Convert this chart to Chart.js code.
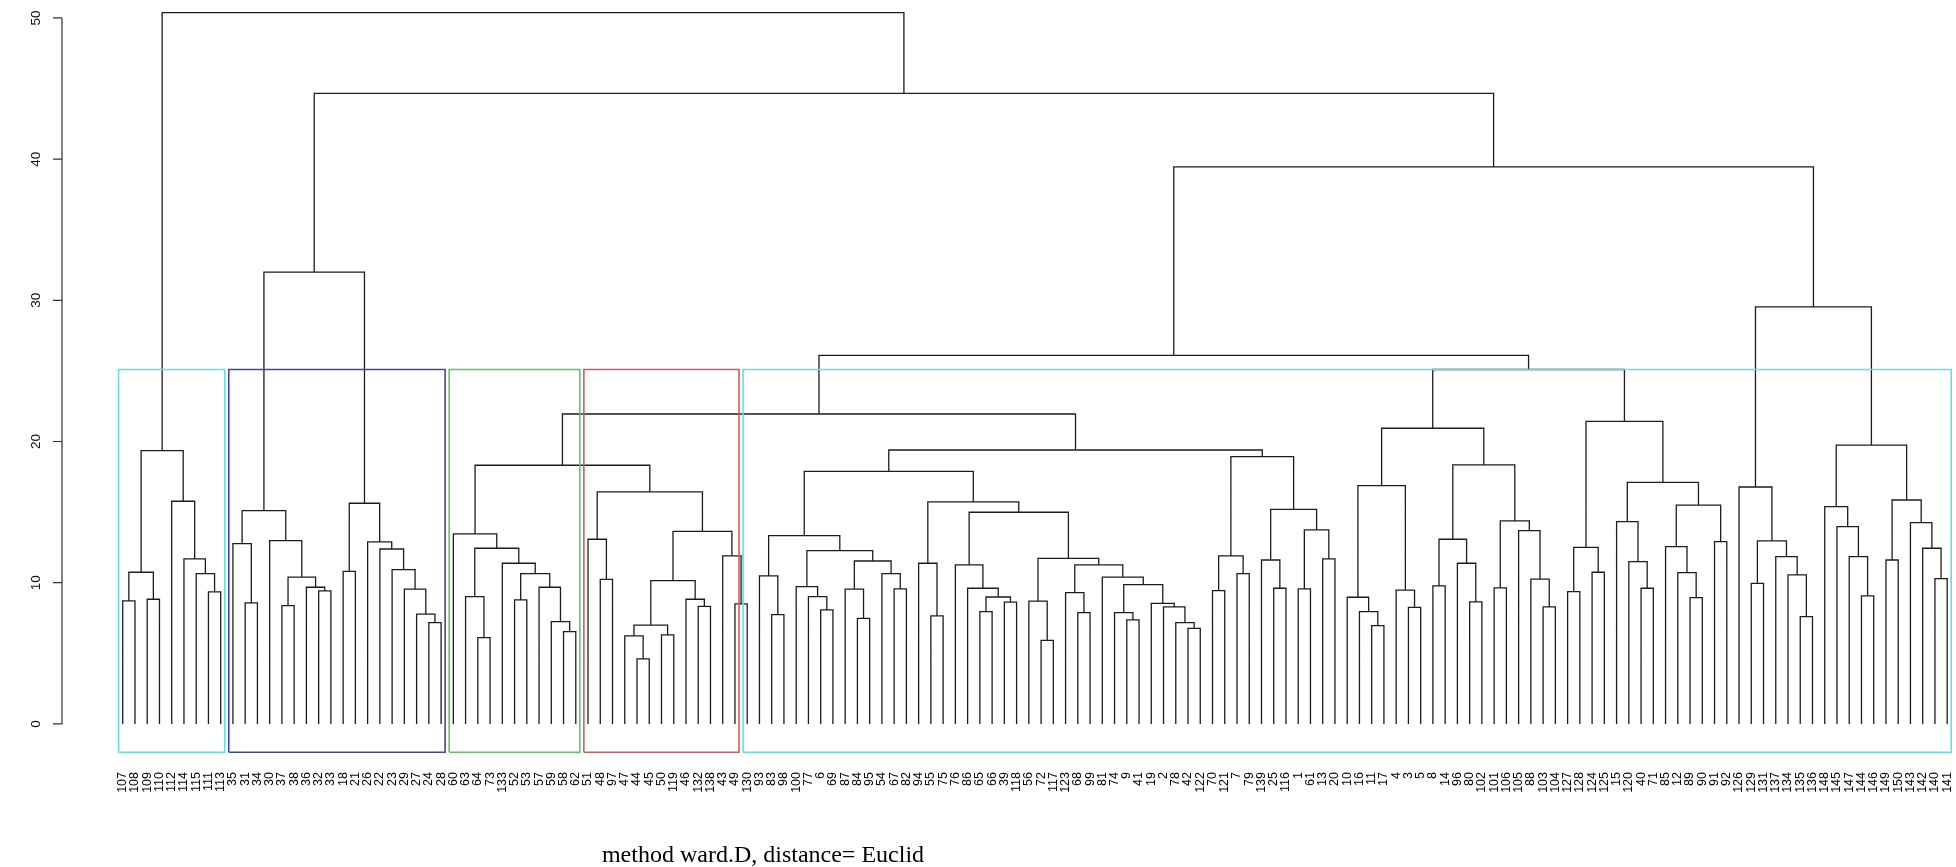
<!DOCTYPE html>
<html>
<head>
<meta charset="utf-8">
<script src="https://cdn.jsdelivr.net/npm/chart.js@4.4.1/dist/chart.umd.min.js"></script>
<style>
  html, body { margin: 0; padding: 0; background: #ffffff; overflow: hidden; }
  canvas { display: block; }
</style>
</head>
<body>
<canvas id="dendro" width="1956" height="867" style="width:1956px;height:867px"></canvas>
<script>
// Observation labels in the left-to-right order of the dendrogram leaves
const leafOrder = [107,108,109,110,112,114,115,111,113,35,31,34,30,37,38,36,32,33,18,21,26,22,23,29,27,24,28,
  60,63,64,73,133,52,53,57,59,58,62,51,48,97,47,44,45,50,119,46,132,138,43,49,130,93,83,98,100,77,6,69,87,84,
  95,54,67,82,94,55,75,76,86,65,66,39,118,56,72,117,123,68,99,81,74,9,41,19,2,78,42,122,70,121,7,79,139,25,116,
  1,61,13,20,10,16,11,17,4,3,5,8,14,96,80,102,101,106,105,88,103,104,127,128,124,125,15,120,40,71,85,12,89,90,
  91,92,126,129,131,137,134,135,136,148,145,147,144,146,149,150,143,142,140,141];

// Agglomeration steps (hclust convention): negative = observation, positive = earlier step (1-based)
const mergePairs = [
  [-107,-108],[-109,-110],[1,2],[-111,-113],[-115,4],[-114,5],[-112,6],[3,7],
  [-31,-34],[-35,9],[-37,-38],[-32,-33],[-36,12],[11,13],[-30,14],[10,15],
  [-18,-21],[-24,-28],[-27,18],[-29,19],[-23,20],[-22,21],[-26,22],[17,23],[16,24],
  [-64,-73],[-63,26],[-52,-53],[-58,-62],[-59,29],[-57,30],[28,31],[-133,32],[27,33],[-60,34],
  [-48,-97],[-51,36],[-44,-45],[-47,38],[-50,-119],[39,40],[-132,-138],[-46,42],[41,43],
  [-49,-130],[-43,45],[44,46],[37,47],[35,48],
  [-83,-98],[-93,50],[-6,-69],[-77,52],[-100,53],[-84,-95],[-87,55],[-67,-82],[-54,57],[56,58],[54,59],[51,60],
  [-55,-75],[-94,62],[-65,-66],[-39,-118],[64,65],[-86,66],[-76,67],[-72,-117],[-56,69],[-68,-99],[-123,71],
  [-9,-41],[-74,73],[-42,-122],[-78,75],[-2,76],[-19,77],[74,78],[-81,79],[72,80],[70,81],[68,82],[63,83],[61,84],
  [-70,-121],[-7,-79],[86,87],[-25,-116],[-139,89],[-1,-61],[-13,-20],[91,92],[90,93],[88,94],[85,95],[49,96],
  [-11,-17],[-16,98],[-10,99],[-3,-5],[-4,101],[100,102],[-8,-14],[-80,-102],[-96,105],[104,106],
  [-101,-106],[-103,-104],[-88,109],[-105,110],[108,111],[107,112],[103,113],
  [-127,-128],[-124,-125],[115,116],[-40,-71],[-120,118],[-15,119],[-89,-90],[-12,121],[-85,122],[-91,-92],
  [123,124],[120,125],[117,126],[114,127],[97,128],
  [-129,-131],[-135,-136],[-134,131],[-137,132],[130,133],[-126,134],
  [-144,-146],[-147,136],[-145,137],[-148,138],[-149,-150],[-140,-141],[-142,141],[-143,142],[140,143],[139,144],
  [135,145],[129,146],[25,147],[8,148]
];

// Height of each agglomeration step, same order as mergePairs
const mergeHeights = [
  8.71,8.83,10.74,9.35,10.65,11.69,15.77,19.36,
  8.57,12.77,8.38,9.42,9.68,10.39,12.98,15.11,
  10.81,7.18,7.77,9.54,10.93,12.39,12.89,15.63,32.0,
  6.11,9.02,8.78,6.54,7.25,9.68,10.65,11.38,12.44,13.46,
  10.24,13.08,4.60,6.23,6.30,6.99,8.33,8.83,10.15,
  8.50,11.90,13.64,16.43,18.32,
  7.74,10.48,8.07,9.02,9.73,7.48,9.54,9.56,10.65,11.54,12.28,13.34,
  7.65,11.38,7.95,8.62,8.99,9.61,11.26,5.92,8.69,7.88,9.30,
  7.37,7.88,6.77,7.18,8.29,8.54,9.87,10.39,11.26,11.73,14.99,15.72,17.89,
  9.44,10.65,11.90,9.61,11.61,9.56,11.69,13.74,15.20,18.93,19.40,21.95,
  6.96,7.95,8.97,8.26,9.47,16.88,9.77,8.64,11.38,13.08,
  9.63,8.29,10.25,13.69,14.38,18.34,20.94,
  9.37,10.74,12.51,9.61,11.50,14.33,8.95,10.72,12.56,12.91,
  15.49,17.11,21.43,25.10,26.10,
  9.96,7.60,10.55,11.85,12.96,16.78,
  9.07,11.85,13.98,15.39,11.61,10.29,12.44,14.26,15.86,19.74,
  29.54,39.45,44.65,50.38
];

// Clusters outlined by rectangles (leaf counts, left to right) and the cut height
const clusterSizes = [9, 18, 11, 13, 99];
const clusterColors = ['#62dfe3', '#45459f', '#66c266', '#d65a5e', '#62dfe3'];
const cutHeight = 25.1;

const yTicks = [0, 10, 20, 30, 40, 50];
const subtitle = 'method ward.D, distance= Euclid';

// ---- build segments ----
const leafPos = {};
leafOrder.forEach((lab, i) => { leafPos[lab] = i; });
const nodeX = [], nodeH = [];
function child(ref) {
  return ref < 0 ? [leafPos[-ref], 0] : [nodeX[ref - 1], nodeH[ref - 1]];
}
const treePoints = [];
mergePairs.forEach((pair, k) => {
  const [xa, ha] = child(pair[0]);
  const [xb, hb] = child(pair[1]);
  const h = mergeHeights[k];
  nodeX.push((xa + xb) / 2);
  nodeH.push(h);
  treePoints.push({x: xa, y: ha}, {x: xa, y: h}, {x: xb, y: h}, {x: xb, y: hb}, {x: xb, y: null});
});

const Y_MIN = -2.01, Y_MAX = 51.27;
const X_MIN = -4.96, X_MAX = 149.72;

const boxDatasets = [];
let start = 0;
clusterSizes.forEach((n, i) => {
  const l = start - 0.34, r = start + n - 1 + 0.33;
  boxDatasets.push({
    data: [{x: l, y: Y_MIN}, {x: l, y: cutHeight}, {x: r, y: cutHeight}, {x: r, y: Y_MIN}, {x: l, y: Y_MIN}],
    showLine: true, borderColor: clusterColors[i], borderWidth: 1.6, pointRadius: 0,
    fill: false, tension: 0, order: 0, clip: false
  });
  start += n;
});

// ---- axes, leaf labels and subtitle ----
const annotate = {
  id: 'annotate',
  afterDraw(chart) {
    const ctx = chart.ctx;
    const xs = chart.scales.x, ys = chart.scales.y;
    ctx.save();
    // leaf labels
    ctx.fillStyle = '#000';
    ctx.font = '12.5px "Liberation Sans", Arial, sans-serif';
    ctx.textAlign = 'right';
    ctx.textBaseline = 'middle';
    leafOrder.forEach((lab, i) => {
      ctx.save();
      ctx.translate(xs.getPixelForValue(i), 772);
      ctx.rotate(-Math.PI / 2);
      ctx.fillText(String(lab), 0, 0);
      ctx.restore();
    });
    // y axis
    const ax = xs.getPixelForValue(X_MIN);
    ctx.strokeStyle = '#333';
    ctx.lineWidth = 1.2;
    ctx.beginPath();
    ctx.moveTo(ax, ys.getPixelForValue(yTicks[0]));
    ctx.lineTo(ax, ys.getPixelForValue(yTicks[yTicks.length - 1]));
    yTicks.forEach(t => {
      const py = ys.getPixelForValue(t);
      ctx.moveTo(ax, py);
      ctx.lineTo(ax - 9, py);
    });
    ctx.stroke();
    ctx.fillStyle = '#111';
    ctx.font = '13.5px "Liberation Sans", Arial, sans-serif';
    ctx.textAlign = 'center';
    ctx.textBaseline = 'middle';
    yTicks.forEach(t => {
      ctx.save();
      ctx.translate(36, ys.getPixelForValue(t));
      ctx.rotate(-Math.PI / 2);
      ctx.fillText(String(t), 0, 0);
      ctx.restore();
    });
    // subtitle
    ctx.fillStyle = '#000';
    ctx.font = '24px "Liberation Serif", "Times New Roman", serif';
    ctx.textAlign = 'center';
    ctx.textBaseline = 'alphabetic';
    ctx.fillText(subtitle, 763, 862);
    ctx.restore();
  }
};

new Chart(document.getElementById('dendro'), {
  type: 'scatter',
  data: {
    datasets: [
      {
        data: treePoints, showLine: true, spanGaps: false, borderColor: '#1c1c1c', borderWidth: 1.3,
        pointRadius: 0, fill: false, tension: 0, order: 1, clip: false
      },
      ...boxDatasets
    ]
  },
  options: {
    responsive: false,
    animation: false,
    devicePixelRatio: 1,
    layout: { padding: { left: 62, right: 0, top: 0, bottom: 867 - 752.3 } },
    plugins: { legend: { display: false }, tooltip: { enabled: false } },
    events: [],
    scales: {
      x: { type: 'linear', min: X_MIN, max: X_MAX, display: false },
      y: { type: 'linear', min: Y_MIN, max: Y_MAX, display: false }
    }
  },
  plugins: [annotate]
});
</script>
</body>
</html>
